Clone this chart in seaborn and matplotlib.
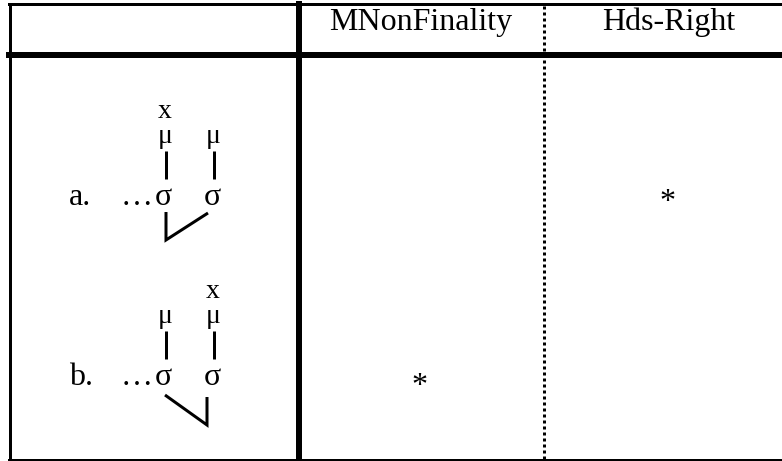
import matplotlib
matplotlib.use("Agg")
import matplotlib.pyplot as plt
import seaborn as sns

## Tableau contents
constraints = ["MNonFinality", "Hds-Right"]
candidates = ["a.", "b."]
violations = [["", "*"],
              ["*", ""]]
stressed_mora = [0, 1]          # which mora carries the grid mark "x"
foot_head = ["left", "right"]   # which syllable heads the foot

sns.set_theme(style="white")
plt.rcParams['font.family'] = ['Liberation Serif', 'DejaVu Serif']
plt.rcParams['text.color'] = 'black'
plt.rcParams['lines.solid_capstyle'] = 'projecting'

W, H = 782, 461
fig = plt.figure(figsize=(W / 100, H / 100), dpi=100)
ax = fig.add_axes([0, 0, 1, 1])
ax.set_xlim(0, W)
ax.set_ylim(H, 0)
ax.axis("off")

px = 0.72  # one pixel in points at dpi 100
fs = 23
fs_small = 20

## Table grid
ax.plot([9, W], [4.5, 4.5], color="black", lw=3 * px)
ax.plot([9.5, 9.5], [4, H], color="black", lw=3 * px)
ax.plot([9, W], [459.5, 459.5], color="black", lw=3 * px)
ax.plot([9, W], [55.5, 55.5], color="black", lw=6 * px)
ax.plot([299, 299], [4, H], color="black", lw=6 * px)
ax.plot([543.5, 543.5], [6, H], color="black", lw=3 * px,
        linestyle=(0, (1, 1)), dash_capstyle="butt")

## Header
col_x = [421, 669]
for name, cx in zip(constraints, col_x):
    ax.text(cx, 30, name, ha="center", va="baseline", fontsize=fs)

## Candidates
row_y = [205, 385]        # baseline of the syllable row
mark_y = [210, 394]       # baseline of the violation marks
sig_x = [163, 212]        # centres of the two syllables
line_x = [166, 214]
for i, (label, y0) in enumerate(zip(candidates, row_y)):
    ax.text(69, y0, label, ha="left", va="baseline", fontsize=fs)
    ax.text(137, y0, "\u2026", ha="center", va="baseline", fontsize=fs)
    for j in range(2):
        ax.text(sig_x[j], y0, "\u03c3", ha="center", va="baseline", fontsize=fs)
        ax.text(line_x[j] - 1, y0 - 62, "\u03bc", ha="center", va="baseline",
                fontsize=fs_small)
        ax.plot([line_x[j], line_x[j]], [y0 - 54, y0 - 26], color="black",
                lw=3 * px, solid_capstyle="butt")
    ax.text(line_x[stressed_mora[i]] - 1, y0 - 87, "x", ha="center",
            va="baseline", fontsize=fs_small)
    # foot bracket
    if foot_head[i] == "left":
        ax.plot([166, 166, 208], [y0 + 7, y0 + 35, y0 + 8],
                color="black", lw=3 * px, solid_joinstyle="miter",
                solid_capstyle="butt")
    else:
        ax.plot([165, 207, 207], [y0 + 10, y0 + 40, y0 + 12],
                color="black", lw=3 * px, solid_joinstyle="miter",
                solid_capstyle="butt")
    for k, mark in enumerate(violations[i]):
        if mark:
            ax.text(col_x[k] - 2, mark_y[i], mark, ha="center", va="baseline",
                    fontsize=fs)

fig.savefig("out.png", dpi=100)
